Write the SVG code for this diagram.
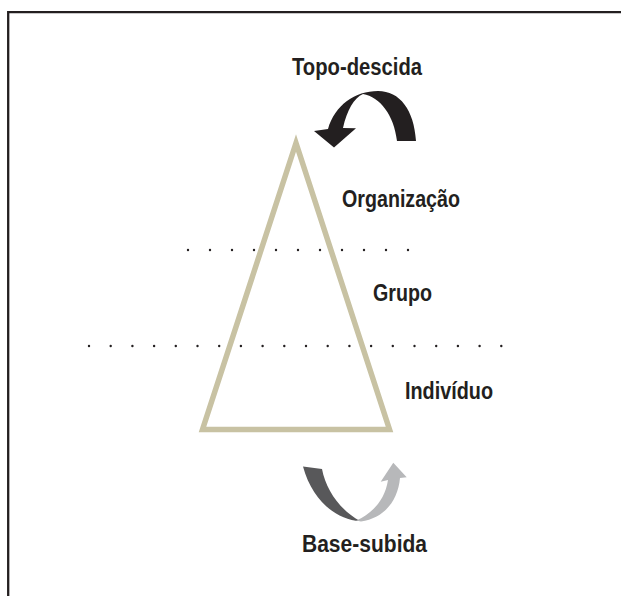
<svg xmlns="http://www.w3.org/2000/svg" width="621" height="596" viewBox="0 0 621 596">
<style>
.t{font-family:"Liberation Sans",Arial,sans-serif;font-weight:bold;font-size:23px;fill:#231f20;}
.d{fill:#231f20;}
</style>
<defs>
<circle id="dot" r="1.2" class="d"/>
</defs>
<rect width="621" height="596" fill="#ffffff"/>
<path d="M8.2,596 V12.2 H621" fill="none" stroke="#231f20" stroke-width="2.3"/>
<g id="dots-upper">
<use href="#dot" x="188" y="250"/><use href="#dot" x="210" y="250"/><use href="#dot" x="232" y="250"/><use href="#dot" x="254" y="250"/><use href="#dot" x="276" y="250"/><use href="#dot" x="298" y="250"/><use href="#dot" x="320" y="250"/><use href="#dot" x="342" y="250"/><use href="#dot" x="364" y="250"/><use href="#dot" x="386" y="250"/><use href="#dot" x="408" y="250"/>
</g>
<g id="dots-lower">
<use href="#dot" x="89" y="346"/><use href="#dot" x="110.7" y="346"/><use href="#dot" x="132.4" y="346"/><use href="#dot" x="154.1" y="346"/><use href="#dot" x="175.8" y="346"/><use href="#dot" x="197.5" y="346"/><use href="#dot" x="219.2" y="346"/><use href="#dot" x="240.9" y="346"/><use href="#dot" x="262.6" y="346"/><use href="#dot" x="284.3" y="346"/><use href="#dot" x="306" y="346"/><use href="#dot" x="327.7" y="346"/><use href="#dot" x="349.4" y="346"/><use href="#dot" x="371.1" y="346"/><use href="#dot" x="392.8" y="346"/><use href="#dot" x="414.5" y="346"/><use href="#dot" x="436.2" y="346"/><use href="#dot" x="457.9" y="346"/><use href="#dot" x="479.6" y="346"/><use href="#dot" x="501.3" y="346"/>
</g>
<g id="pyramid">
<polygon points="296,143 202.5,429.5 389.5,429.5" fill="none" stroke="#c8c2a3" stroke-width="5.5" stroke-linejoin="miter" stroke-miterlimit="10"/>
</g>
<g id="topo-descida">
<path d="M416,141 C414,110 400,91 378,91 C355,91 335,105 328,129 L314,131 L334,147.5 L356,128.3 L343,128 C347,110 354,98 363,94 C380,97 394,115 397,141 Z" fill="#231f20"/>
<text class="t" x="292" y="75" textLength="130" lengthAdjust="spacingAndGlyphs">Topo-descida</text>
</g>
<g id="organizacao">
<text class="t" x="342" y="207" textLength="118" lengthAdjust="spacingAndGlyphs">Organização</text>
</g>
<g id="grupo">
<text class="t" x="373" y="301" textLength="59" lengthAdjust="spacingAndGlyphs">Grupo</text>
</g>
<g id="individuo">
<text class="t" x="405" y="399" textLength="88" lengthAdjust="spacingAndGlyphs">Indivíduo</text>
</g>
<g id="base-subida">
<path d="M303,466.5 L322,469 C326,490 340,510 360,521 C336,520 312,500 303,466.5 Z" fill="#58585a"/>
<path d="M356,520.5 C372,514 385,500 388,480 L380.7,481.7 L393.3,462.7 L406.7,477.3 L400,478 C398,500 385,518 361,521.5 Z" fill="#b7b8ba"/>
<text class="t" x="302" y="552" textLength="125" lengthAdjust="spacingAndGlyphs">Base-subida</text>
</g>
</svg>
